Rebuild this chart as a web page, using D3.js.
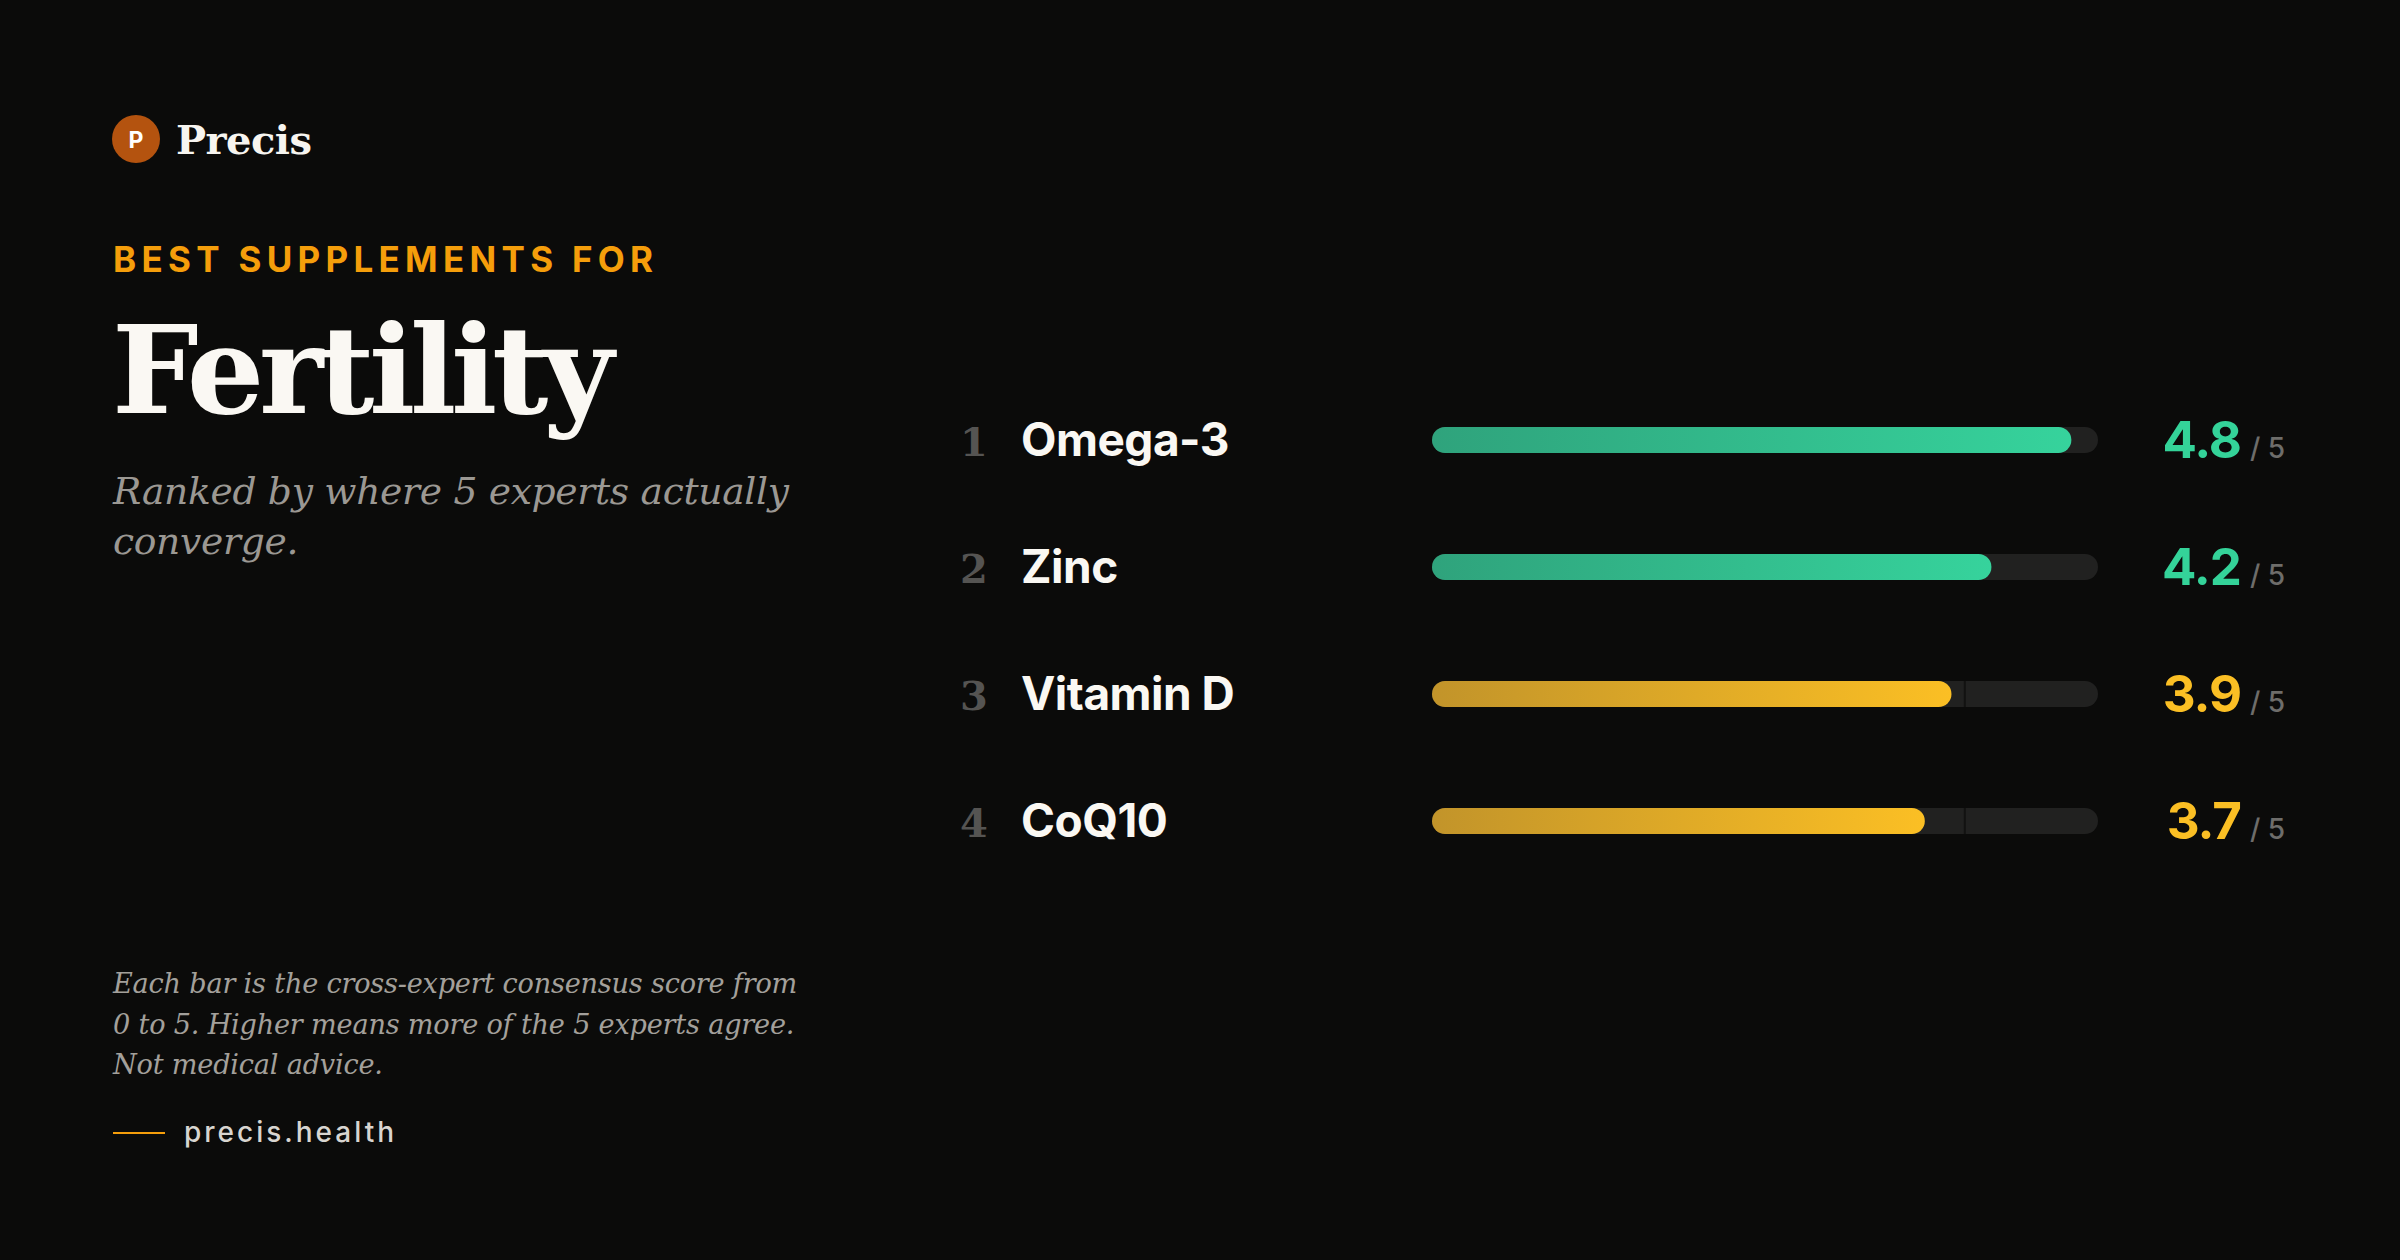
<!DOCTYPE html>
<html>
<head>
<meta charset="utf-8">
<script src="https://cdn.jsdelivr.net/npm/d3@7"></script>
<style>
  html, body { margin: 0; padding: 0; background: #0b0b0a; }
  svg { display: block; }
</style>
</head>
<body>
<svg id="chart" width="2400" height="1260"></svg>
<script>
// ---- data ----
const ranks = [1, 2, 3, 4];
const supplements = ["Omega-3", "Zinc", "Vitamin D", "CoQ10"];
const scores = [4.8, 4.2, 3.9, 3.7];
const scoreLabels = ["4.8", "4.2", "3.9", "3.7"];
const maxScore = 5;
const thresholdScore = 4.0;
const kicker = "BEST SUPPLEMENTS FOR";
const title = "Fertility";
const subtitleLines = ["Ranked by where 5 experts actually", "converge."];
const noteLines = [
  "Each bar is the cross-expert consensus score from",
  "0 to 5. Higher means more of the 5 experts agree.",
  "Not medical advice."
];
const brand = "Precis";
const site = "precis.health";

const rows = supplements.map((name, i) => ({
  rank: ranks[i], name, score: scores[i], label: scoreLabels[i]
}));

const svg = d3.select("#chart");
const W = 2400, H = 1260;
svg.append("rect").attr("width", W).attr("height", H).attr("fill", "#0b0b0a");

const SANS = "Inter, 'DejaVu Sans', sans-serif";
const SERIF = "'DejaVu Serif', 'Liberation Serif', serif";

// adjust letter-spacing so that a block's first line spans targetWidth
function fitSpacing(sel, targetWidth) {
  sel.attr("letter-spacing", "0px");
  const first = sel.nodes()[0];
  const w = first.getComputedTextLength();
  const n = first.textContent.length;
  const ls = (targetWidth - w) / Math.max(1, n - 1);
  sel.attr("letter-spacing", ls.toFixed(2) + "px");
}
// adjust font-size so that a block's first line spans targetWidth
function fitSize(sel, targetWidth) {
  const first = sel.nodes()[0];
  const fs = +sel.attr("font-size");
  const w = first.getComputedTextLength();
  sel.attr("font-size", (fs * targetWidth / w).toFixed(2));
}

// ---- gradients ----
const defs = svg.append("defs");
function grad(id, c0, c1) {
  const g = defs.append("linearGradient").attr("id", id)
    .attr("x1", "0%").attr("x2", "100%").attr("y1", "0%").attr("y2", "0%");
  g.append("stop").attr("offset", "0%").attr("stop-color", c0);
  g.append("stop").attr("offset", "100%").attr("stop-color", c1);
}
grad("gGreen", "#2fa37c", "#36d39c");
grad("gAmber", "#c2942a", "#fbbf24");
const colorFor = s => s >= thresholdScore ? { g: "url(#gGreen)", t: "#34d399" } : { g: "url(#gAmber)", t: "#fbbf24" };

// ---- left panel ----
const left = svg.append("g");
left.append("circle").attr("cx", 136).attr("cy", 139).attr("r", 24).attr("fill", "#b4530f");
left.append("text").attr("x", 136).attr("y", 147.5).attr("text-anchor", "middle")
  .attr("font-family", SANS).attr("font-weight", 700).attr("font-size", 23)
  .attr("fill", "#fff").text("P");
const brandT = left.append("text").attr("x", 176).attr("y", 154)
  .attr("font-family", SERIF).attr("font-weight", 700).attr("font-size", 40)
  .attr("fill", "#f7f5f0").text(brand);
fitSpacing(brandT, 136);

const kickT = left.append("text").attr("x", 113).attr("y", 272)
  .attr("font-family", SANS).attr("font-weight", 700).attr("font-size", 35)
  .attr("fill", "#f59e0b").text(kicker);
fitSpacing(kickT, 540);

const titleT = left.append("text").attr("x", 112).attr("y", 413)
  .attr("font-family", SERIF).attr("font-weight", 700).attr("font-size", 122)
  .attr("fill", "#faf8f3").text(title);
fitSpacing(titleT, 502);

const subT = left.append("g").selectAll("text").data(subtitleLines).join("text")
  .attr("x", 113).attr("y", (d, i) => 504 + i * 50)
  .attr("font-family", SERIF).attr("font-style", "italic").attr("font-size", 38)
  .attr("letter-spacing", "-0.3px")
  .attr("fill", "#9b9893").text(d => d);
fitSize(subT, 676);

const noteT = left.append("g").selectAll("text").data(noteLines).join("text")
  .attr("x", 113).attr("y", (d, i) => 993 + i * 40.6)
  .attr("font-family", SERIF).attr("font-style", "italic").attr("font-size", 26)
  .attr("letter-spacing", "-0.2px")
  .attr("fill", "#a3a09b").text(d => d);
fitSize(noteT, 684);

left.append("line").attr("x1", 113).attr("x2", 165).attr("y1", 1133).attr("y2", 1133)
  .attr("stroke", "#f59e0b").attr("stroke-width", 2);
const siteT = left.append("text").attr("x", 184).attr("y", 1142)
  .attr("font-family", SANS).attr("font-weight", 500).attr("font-size", 28)
  .attr("fill", "#d8d5d0").text(site);
fitSpacing(siteT, 210);

// ---- chart ----
const x = d3.scaleLinear().domain([0, maxScore]).range([1432, 2098]);
const y = d3.scalePoint().domain(supplements).range([440, 821]);
const barH = 26;

const row = svg.append("g").selectAll("g").data(rows).join("g")
  .attr("transform", d => `translate(0,${y(d.name)})`);

row.append("rect").attr("x", x(0)).attr("y", -barH / 2)
  .attr("width", x(maxScore) - x(0)).attr("height", barH)
  .attr("rx", barH / 2).attr("fill", "#212120");

row.append("line").attr("x1", x(thresholdScore)).attr("x2", x(thresholdScore))
  .attr("y1", -barH / 2).attr("y2", barH / 2)
  .attr("stroke", "#121211").attr("stroke-width", 2);

row.append("rect").attr("x", x(0)).attr("y", -barH / 2)
  .attr("width", d => x(d.score) - x(0)).attr("height", barH)
  .attr("rx", barH / 2).attr("fill", d => colorFor(d.score).g);

row.append("text").attr("x", 974).attr("y", 16).attr("text-anchor", "middle")
  .attr("font-family", SERIF).attr("font-weight", 700).attr("font-size", 40)
  .attr("fill", "#555452").text(d => d.rank);

row.append("text").attr("x", 1021).attr("y", 16)
  .attr("font-family", SANS).attr("font-weight", 700).attr("font-size", 46)
  .attr("letter-spacing", "-0.5px")
  .attr("fill", "#faf8f3").text(d => d.name);

row.append("text").attr("x", 2241).attr("y", 18).attr("text-anchor", "end")
  .attr("font-family", SANS).attr("font-weight", 700).attr("font-size", 51)
  .attr("letter-spacing", "-1px")
  .attr("fill", d => colorFor(d.score).t).text(d => d.label);

row.append("text").attr("x", 2250).attr("y", 18)
  .attr("font-family", SANS).attr("font-weight", 500).attr("font-size", 28)
  .attr("fill", "#6e6d6a").text("/ " + maxScore);
</script>
</body>
</html>
